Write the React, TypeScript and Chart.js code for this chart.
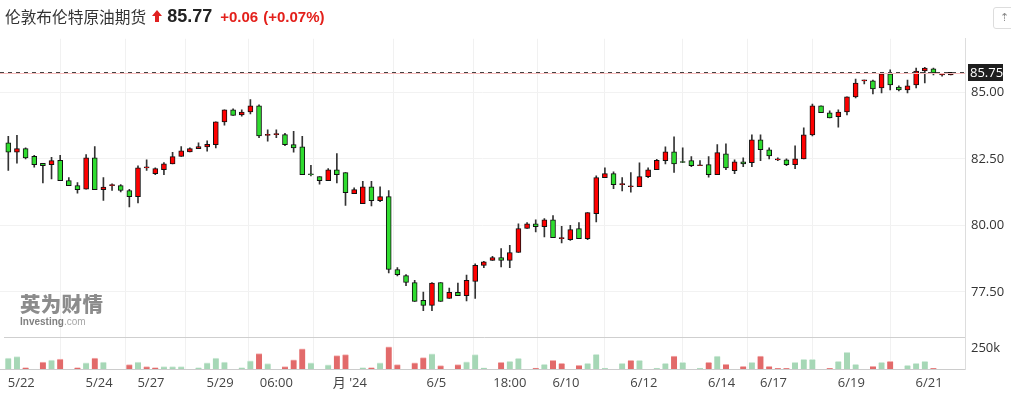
import React, { useEffect, useRef } from 'react';
import { Chart, registerables } from 'chart.js';

Chart.register(...registerables);

// 5-hour candles, 5/21 – 6/21
const opens = [
  83.10, 82.75, 82.88, 82.59, 82.33, 82.28, 82.44, 81.68, 81.49, 81.36,
  82.54, 81.34, 81.49, 81.49, 81.31, 81.08, 82.16, 81.94, 82.09, 82.31,
  82.59, 82.76, 82.88, 82.95, 83.03, 83.89, 84.34, 84.15, 84.26, 84.49,
  83.38, 83.41, 83.41, 83.03, 82.95, 81.93, 81.83, 81.68, 82.09, 81.98,
  81.19, 80.81, 81.45, 80.93, 81.08, 78.34, 78.11, 77.85, 77.18, 76.99,
  77.85, 77.25, 77.48, 77.36, 77.89, 78.49, 78.68, 78.79, 78.68, 78.98,
  79.88, 80.06, 79.95, 80.21, 79.50, 79.46, 79.88, 79.50, 80.44, 81.79,
  81.94, 81.53, 81.45, 81.45, 81.83, 82.09, 82.43, 82.76, 82.38, 82.43,
  82.24, 82.28, 81.90, 82.69, 82.05, 82.39, 82.35, 83.21, 82.84, 82.46,
  82.46, 82.28, 82.50, 83.40, 84.49, 84.23, 84.08, 84.26, 84.83, 85.43,
  85.43, 85.16, 85.69, 85.20, 85.09, 85.28, 85.80, 85.88, 85.65, 85.65,
];
const highs = [
  83.34, 83.38, 82.91, 82.63, 82.33, 82.56, 82.63, 81.79, 81.61, 82.66,
  82.96, 81.79, 81.56, 81.53, 81.35, 82.24, 82.46, 82.16, 82.36, 82.74,
  82.96, 82.91, 83.10, 83.18, 83.89, 84.34, 84.38, 84.34, 84.73, 84.53,
  83.59, 83.59, 83.46, 83.53, 83.34, 82.25, 81.83, 82.13, 82.70, 81.98,
  81.41, 81.65, 81.65, 81.45, 81.31, 78.41, 78.15, 77.93, 77.49, 77.85,
  77.85, 77.64, 77.83, 78.13, 78.55, 78.65, 78.83, 79.13, 79.25, 80.06,
  80.10, 80.21, 80.25, 80.37, 79.96, 80.00, 80.10, 80.48, 81.86, 82.16,
  82.01, 81.79, 81.98, 82.35, 82.16, 82.48, 82.95, 83.33, 82.91, 82.58,
  82.43, 82.58, 83.03, 83.06, 82.46, 82.54, 83.40, 83.40, 82.91, 82.54,
  82.50, 82.99, 83.66, 84.56, 84.49, 84.30, 84.34, 84.83, 85.50, 85.46,
  85.46, 85.69, 85.84, 85.24, 85.46, 85.91, 85.94, 85.91, 85.69, 85.75,
];
const lows = [
  82.06, 82.34, 82.50, 82.19, 81.59, 81.74, 81.68, 81.49, 81.21, 81.36,
  81.34, 80.94, 81.31, 81.26, 80.69, 80.84, 82.06, 81.90, 81.90, 82.31,
  82.59, 82.76, 82.88, 82.79, 82.91, 83.76, 84.13, 84.10, 84.19, 83.29,
  83.16, 83.29, 82.99, 82.75, 81.90, 81.86, 81.55, 81.68, 81.59, 80.75,
  81.19, 80.81, 80.73, 80.89, 78.21, 78.10, 77.73, 77.14, 76.79, 76.79,
  77.14, 77.25, 77.36, 77.16, 77.25, 78.41, 78.68, 78.44, 78.41, 78.98,
  79.88, 79.75, 79.56, 79.54, 79.34, 79.43, 79.50, 79.46, 80.13, 81.79,
  81.38, 81.29, 81.25, 81.45, 81.79, 82.09, 82.31, 81.99, 82.35, 82.20,
  82.24, 81.81, 81.90, 82.09, 81.94, 82.20, 82.20, 82.43, 82.50, 82.43,
  82.24, 82.13, 82.50, 83.36, 84.23, 84.04, 83.69, 84.15, 84.79, 85.31,
  84.94, 84.98, 85.09, 85.05, 84.98, 85.16, 85.35, 85.65, 85.61, 85.65,
];
const closes = [
  82.75, 82.88, 82.53, 82.28, 82.24, 82.43, 81.68, 81.49, 81.34, 82.54,
  81.34, 81.44, 81.49, 81.31, 81.08, 82.16, 82.16, 82.13, 82.31, 82.58,
  82.80, 82.88, 82.96, 83.04, 83.89, 84.34, 84.13, 84.26, 84.49, 83.36,
  83.38, 83.41, 83.03, 82.91, 81.90, 81.90, 81.68, 82.09, 81.90, 81.23,
  81.34, 81.45, 80.93, 81.08, 78.34, 78.15, 77.85, 77.14, 76.99, 77.83,
  77.14, 77.48, 77.36, 77.93, 78.50, 78.63, 78.79, 78.68, 78.98, 79.88,
  80.06, 79.95, 80.21, 79.54, 79.50, 79.84, 79.50, 80.48, 81.79, 81.94,
  81.53, 81.53, 81.45, 81.83, 82.09, 82.44, 82.76, 82.31, 82.36, 82.24,
  82.24, 81.90, 82.73, 82.16, 82.39, 82.31, 83.21, 82.84, 82.61, 82.46,
  82.28, 82.50, 83.40, 84.49, 84.23, 84.04, 84.26, 84.83, 85.35, 85.43,
  85.13, 85.69, 85.28, 85.09, 85.24, 85.80, 85.91, 85.73, 85.65, 85.75,
];
// volume in thousands of contracts
const volumes = [
  133, 149, 16, 0, 85, 109, 121, 0, 16, 76,
  133, 85, 0, 0, 52, 85, 28, 16, 28, 28,
  28, 0, 16, 76, 133, 85, 0, 16, 100, 185,
  66, 0, 28, 111, 244, 75, 0, 51, 161, 173,
  0, 16, 16, 75, 269, 52, 0, 75, 138, 184,
  40, 0, 52, 87, 173, 14, 0, 82, 93, 129,
  0, 12, 57, 105, 69, 0, 45, 69, 178, 12,
  0, 69, 105, 105, 0, 12, 69, 157, 81, 0,
  12, 81, 157, 57, 0, 33, 81, 157, 33, 9,
  9, 81, 117, 117, 0, 9, 93, 202, 57, 0,
  33, 81, 93, 0, 45, 69, 93, 9, 0, 0,
];
// 1 = red (up) volume bar, 0 = green
const volumeUp = [
  0, 0, 1, 0, 1, 0, 1, 0, 1, 0,
  1, 0, 0, 0, 1, 0, 1, 1, 0, 0,
  0, 0, 0, 0, 0, 0, 0, 0, 0, 1,
  0, 0, 1, 1, 1, 0, 0, 0, 1, 1,
  0, 0, 1, 0, 1, 1, 0, 1, 1, 0,
  1, 0, 1, 0, 0, 0, 0, 1, 0, 0,
  0, 1, 0, 1, 1, 0, 1, 0, 0, 0,
  0, 0, 1, 0, 0, 0, 0, 1, 0, 0,
  0, 1, 0, 1, 0, 1, 0, 1, 1, 1,
  1, 0, 0, 0, 0, 1, 0, 0, 0, 0,
  1, 0, 1, 0, 0, 0, 0, 1, 0, 0,
];
const xTickPositions = [1.5, 10.5, 16.5, 24.5, 31, 39.5, 49.5, 58, 64.5, 73.5, 82.5, 88.5, 97.5, 106.5];
const xTickLabels = ['5/22', '5/24', '5/27', '5/29', '06:00', "月 '24", '6/5', '18:00', '6/10', '6/12', '6/14', '6/17', '6/19', '6/21'];
const priceTicks = [77.5, 80, 82.5, 85];
const volumeTicks = [250000];

const title = '伦敦布伦特原油期货';
const lastPrice = '85.77';
const change = '+0.06';
const changePct = '(+0.07%)';

const UP = '#ff0000';
const DOWN = '#2fdc2f';
const FONT = "'Open Sans', 'Noto Sans CJK SC', sans-serif";

const priceLinePlugin = {
  id: 'priceLine',
  afterDatasetsDraw(chart: any) {
    const { ctx, chartArea, scales } = chart;
    const y = scales.y;
    const yv = scales.yv;
    ctx.save();
    // separator between price and volume panes
    ctx.strokeStyle = '#cfcfcf';
    ctx.lineWidth = 1;
    ctx.beginPath();
    const sy = Math.round(yv.top) + 0.5;
    ctx.moveTo(chartArea.left + 4, sy);
    ctx.lineTo(chartArea.right, sy);
    ctx.stroke();
    // last price line
    const last = closes[closes.length - 1];
    const py = Math.round(y.getPixelForValue(last)) + 0.5;
    ctx.strokeStyle = '#f7bcbc';
    ctx.beginPath();
    ctx.moveTo(chartArea.left, py + 1);
    ctx.lineTo(chartArea.right, py + 1);
    ctx.stroke();
    ctx.strokeStyle = '#444';
    ctx.setLineDash([4, 4]);
    ctx.beginPath();
    ctx.moveTo(chartArea.left, py);
    ctx.lineTo(chartArea.right, py);
    ctx.stroke();
    ctx.restore();
  },
  afterDraw(chart: any) {
    const { ctx, chartArea, scales } = chart;
    const last = closes[closes.length - 1];
    const py = scales.y.getPixelForValue(last);
    ctx.save();
    ctx.fillStyle = '#1e1e1e';
    ctx.fillRect(chartArea.right + 3, Math.round(py) - 8, 35, 17);
    ctx.fillStyle = '#ffffff';
    ctx.font = `13px ${FONT}`;
    ctx.textBaseline = 'middle';
    ctx.textAlign = 'left';
    ctx.fillText(last.toFixed(2), chartArea.right + 5, Math.round(py) + 1);
    ctx.restore();
  },
};

export default function App() {
  const ref = useRef<HTMLCanvasElement>(null);

  useEffect(() => {
    const idx = opens.map((_, i) => i);
    const isUp = idx.map((i) => closes[i] >= opens[i]);
    const chart = new Chart(ref.current as HTMLCanvasElement, {
      type: 'bar',
      data: {
        datasets: [
          {
            label: 'wick',
            data: idx.map((i) => ({ x: i, y: [lows[i], highs[i]] })) as any,
            backgroundColor: '#333333',
            barThickness: 1,
            grouped: false,
            yAxisID: 'y',
            order: 3,
          } as any,
          {
            label: 'body',
            data: idx.map((i) => ({ x: i, y: [opens[i], closes[i]] })) as any,
            backgroundColor: idx.map((i) => (isUp[i] ? UP : DOWN)),
            borderColor: '#111111',
            borderWidth: 1,
            borderSkipped: false,
            barThickness: 5,
            minBarLength: 1,
            grouped: false,
            yAxisID: 'y',
            order: 1,
          } as any,
          {
            label: 'volume',
            data: idx.map((i) => ({ x: i, y: volumes[i] ? volumes[i] * 1000 : null })) as any,
            backgroundColor: idx.map((i) => (volumeUp[i] ? '#e26a6a' : '#a6d7b6')),
            borderColor: idx.map((i) => (volumeUp[i] ? '#f4b3b3' : '#d3ecdc')),
            borderWidth: { top: 1, left: 0, right: 0, bottom: 0 },
            borderSkipped: false,
            barThickness: 6,
            grouped: false,
            yAxisID: 'yv',
            order: 2,
          } as any,
        ],
      },
      options: {
        responsive: false,
        animation: false,
        devicePixelRatio: 1,
        layout: { padding: 0, autoPadding: false },
        plugins: { legend: { display: false }, tooltip: { enabled: false } },
        scales: {
          x: {
            type: 'linear',
            min: -0.96,
            max: 110.65,
            offset: false,
            grid: { color: '#f1f1f1', drawTicks: false },
            border: { display: true, color: '#cccccc' },
            ticks: {
              autoSkip: false,
              maxRotation: 0,
              padding: 6,
              color: '#444444',
              font: { family: FONT, size: 13 },
              callback: (_v: any, i: number) => xTickLabels[i],
            },
            afterBuildTicks: (s: any) => {
              s.ticks = xTickPositions.map((v) => ({ value: v }));
            },
            afterFit: (s: any) => {
              s.height = 26;
            },
          },
          y: {
            type: 'linear',
            position: 'right',
            stack: 'pane',
            stackWeight: 299,
            min: 75.8,
            max: 87.01,
            grid: { color: '#f2f2f2', drawTicks: false },
            border: { display: true, color: '#dddddd' },
            ticks: {
              padding: 6,
              color: '#333333',
              font: { family: FONT, size: 13 },
              callback: (v: any) => Number(v).toFixed(2),
            },
            afterBuildTicks: (s: any) => {
              s.ticks = priceTicks.map((v) => ({ value: v }));
            },
            afterFit: (s: any) => {
              s.width = 46;
            },
          },
          yv: {
            type: 'linear',
            position: 'right',
            stack: 'pane',
            stackWeight: 32,
            min: 0,
            max: 386000,
            grid: { display: false, drawTicks: false },
            border: { display: true, color: '#dddddd' },
            ticks: {
              padding: 6,
              color: '#333333',
              font: { family: FONT, size: 13 },
              callback: (v: any) => `${Math.round(Number(v) / 1000)}k`,
            },
            afterBuildTicks: (s: any) => {
              s.ticks = volumeTicks.map((v) => ({ value: v }));
            },
            afterFit: (s: any) => {
              s.width = 46;
            },
          },
        },
      } as any,
      plugins: [priceLinePlugin],
    });
    return () => chart.destroy();
  }, []);

  return (
    <div style={{ position: 'absolute', left: 0, top: 0, width: 1011, height: 395, background: '#fff', overflow: 'hidden' }}>
      <canvas ref={ref} width={1011} height={370} style={{ position: 'absolute', left: 0, top: 25, display: 'block' }} />
      <div
        style={{
          position: 'absolute',
          left: 5,
          top: 4,
          height: 24,
          display: 'flex',
          alignItems: 'center',
          whiteSpace: 'nowrap',
          fontFamily: "'Liberation Sans', 'Noto Sans CJK SC', sans-serif",
        }}
      >
        <span style={{ fontFamily: "'Noto Sans CJK SC', sans-serif", fontSize: 15.7, color: '#333' }}>{title}</span>
        <svg width="10" height="12" viewBox="0 0 10 12" style={{ marginLeft: 6, marginRight: 5 }}>
          <polygon points="5,0 10,6 7,6 7,12 3,12 3,6 0,6" fill="#e02020" />
        </svg>
        <span style={{ fontSize: 18, fontWeight: 700, color: '#222' }}>{lastPrice}</span>
        <span style={{ fontSize: 15, fontWeight: 700, color: '#e3201b', marginLeft: 8 }}>{change}</span>
        <span style={{ fontSize: 15, fontWeight: 700, color: '#e3201b', marginLeft: 5 }}>{changePct}</span>
      </div>
      <div
        style={{
          position: 'absolute',
          left: 993,
          top: 7,
          width: 24,
          height: 22,
          border: '1px solid #dddddd',
          borderRadius: 3,
          boxSizing: 'border-box',
          color: '#888',
          fontSize: 11,
          fontFamily: 'DejaVu Sans',
          lineHeight: '20px',
          paddingLeft: 6,
        }}
      >
        ⇡
      </div>
      <div style={{ position: 'absolute', left: 20, top: 291, opacity: 0.75, pointerEvents: 'none' }}>
        <div style={{ fontFamily: "'Noto Sans CJK SC', sans-serif", fontWeight: 900, fontSize: 20.5, color: '#666', lineHeight: '24px', letterSpacing: 0.3 }}>
          英为财情
        </div>
        <div style={{ fontFamily: "'Liberation Sans', sans-serif", fontSize: 10, lineHeight: '12px', marginTop: 1 }}>
          <span style={{ fontWeight: 700, color: '#555' }}>Investing</span>
          <span style={{ color: '#888' }}>.com</span>
        </div>
      </div>
    </div>
  );
}
